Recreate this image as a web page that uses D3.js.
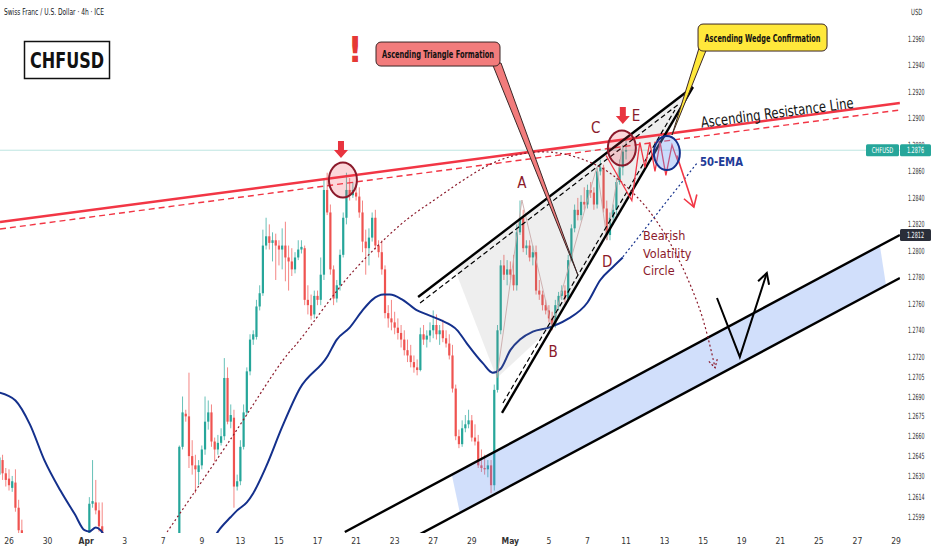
<!DOCTYPE html>
<html><head><meta charset="utf-8">
<script src="https://cdn.jsdelivr.net/npm/d3@7"></script>
<style>
body{margin:0;background:#fff}
svg{display:block;font-family:"Liberation Sans Narrow","DejaVu Sans Condensed","Roboto",sans-serif}
</style></head>
<body><svg id="c" width="932" height="550"></svg>
<script>
// ---------- DATA ----------
const timeLabels = ["26","30","Apr","3","7","9","13","15","17","21","23","27","29","May","5","7","11","13","15","19","21","25","27","29"];
const barsPerLabel = 12;
const priceTicks = [1.2960,1.2940,1.2920,1.2900,1.2880,1.2860,1.2840,1.2820,1.2800,1.2780,1.2760,1.2740,1.2720,1.2705,1.2690,1.2675,1.2660,1.2645,1.2630,1.2614,1.2599];
const firstBar = -3;
const opens = [1.2631,1.2642,1.2632,1.2628,1.2621,1.2625,1.2606,1.2589,
1.2576,1.2567,1.2559,1.2548,1.2555,1.2542,1.2536,1.2527,1.2533,1.2538,1.2532,1.2523,1.2529,1.2540,1.2536,1.2544,1.2552,1.2558,1.2563,1.2570,
1.2582,1.2609,1.2610,1.2604,1.2592,
1.2576,1.2567,1.2559,1.2552,1.2546,1.2540,1.2535,1.2530,1.2536,1.2533,1.2527,1.2525,1.2530,1.2538,1.2535,1.2539,1.2545,1.2548,1.2544,1.2550,1.2555,1.2561,1.2567,
1.2578,1.2652,1.2677,1.2675,1.2645,1.2638,1.2633,1.2638,1.2650,1.2671,1.2678,1.2656,1.2650,1.2655,1.2660,1.2704,1.2671,1.2674,1.2622,1.2626,1.2652,1.2678,1.2709,1.2733,1.2735,1.2758,1.2768,1.2804,1.2811,1.2806,1.2808,1.2804,1.2801,1.2804,1.2795,1.2792,1.2786,1.2795,1.2801,1.2802,1.2763,1.2759,1.2752,1.2766,1.2763,1.2782,1.2846,1.2829,1.2786,1.2764,1.2774,1.2797,1.2825,1.2846,1.2842,1.2844,1.2841,1.2829,1.2807,1.2802,1.2810,1.2825,1.2804,1.2799,1.2786,1.2753,1.2749,1.2746,1.2742,1.2738,1.2733,1.2725,1.2721,1.2716,1.2712,1.2710,1.2737,1.2733,1.2736,1.2740,1.2744,1.2737,1.2740,1.2734,1.2730,1.2721,1.2696,1.2660,1.2654,1.2666,1.2669,1.2672,1.2659,1.2656,1.2638,1.2636,1.2635,1.2638,1.2623,1.2695,1.2740,1.2789,1.2782,1.2786,1.2782,1.2774,1.2814,1.2825,1.2802,1.2804,1.2795,1.2799,1.2770,1.2767,1.2759,1.2755,1.2749,1.2744,1.2759,1.2766,1.2770,1.2764,1.2793,1.2817,1.2831,1.2827,1.2837,1.2835,1.2846,1.2844,1.2835,1.2860,1.2863,1.2832,1.2812,1.2825,1.2831,1.2852,1.2863,1.2875];
const highs = [1.2650,1.2646,1.2636,1.2635,1.2630,1.2635,1.2612,1.2597,
1.2582,1.2574,1.2568,1.2559,1.2563,1.2555,1.2544,1.2540,1.2544,1.2548,1.2540,1.2536,1.2544,1.2552,1.2548,1.2555,1.2563,1.2571,1.2578,1.2585,
1.2614,1.2642,1.2627,1.2610,1.2610,
1.2582,1.2576,1.2570,1.2563,1.2555,1.2552,1.2544,1.2540,1.2548,1.2544,1.2538,1.2536,1.2544,1.2548,1.2544,1.2552,1.2555,1.2559,1.2555,1.2561,1.2567,1.2570,1.2578,
1.2653,1.2690,1.2680,1.2708,1.2657,1.2646,1.2642,1.2653,1.2690,1.2687,1.2684,1.2659,1.2661,1.2666,1.2719,1.2712,1.2684,1.2680,1.2631,1.2657,1.2684,1.2712,1.2737,1.2740,1.2763,1.2774,1.2816,1.2825,1.2820,1.2814,1.2813,1.2808,1.2817,1.2822,1.2804,1.2802,1.2799,1.2808,1.2808,1.2804,1.2774,1.2767,1.2770,1.2770,1.2795,1.2854,1.2859,1.2835,1.2789,1.2778,1.2801,1.2829,1.2859,1.2855,1.2852,1.2850,1.2848,1.2838,1.2816,1.2817,1.2829,1.2831,1.2808,1.2808,1.2789,1.2759,1.2763,1.2754,1.2749,1.2744,1.2740,1.2733,1.2729,1.2721,1.2718,1.2742,1.2744,1.2740,1.2746,1.2755,1.2752,1.2744,1.2748,1.2740,1.2737,1.2729,1.2699,1.2665,1.2672,1.2676,1.2680,1.2676,1.2669,1.2661,1.2650,1.2646,1.2642,1.2642,1.2699,1.2744,1.2793,1.2797,1.2793,1.2792,1.2797,1.2820,1.2838,1.2831,1.2808,1.2808,1.2804,1.2804,1.2778,1.2770,1.2763,1.2759,1.2754,1.2763,1.2769,1.2774,1.2774,1.2797,1.2820,1.2835,1.2840,1.2842,1.2848,1.2850,1.2852,1.2848,1.2863,1.2869,1.2865,1.2838,1.2829,1.2835,1.2855,1.2869,1.2880,1.2884];
const lows = [1.2627,1.2627,1.2622,1.2619,1.2618,1.2603,1.2585,1.2573,
1.2563,1.2555,1.2544,1.2540,1.2536,1.2529,1.2521,1.2518,1.2525,1.2527,1.2518,1.2514,1.2521,1.2529,1.2525,1.2536,1.2540,1.2548,1.2555,1.2559,
1.2578,1.2606,1.2601,1.2588,1.2570,
1.2563,1.2555,1.2548,1.2540,1.2536,1.2529,1.2525,1.2521,1.2527,1.2523,1.2518,1.2515,1.2525,1.2529,1.2525,1.2533,1.2538,1.2540,1.2536,1.2544,1.2548,1.2555,1.2563,
1.2576,1.2650,1.2671,1.2636,1.2631,1.2617,1.2623,1.2635,1.2646,1.2665,1.2652,1.2641,1.2646,1.2653,1.2657,1.2669,1.2666,1.2606,1.2619,1.2623,1.2650,1.2676,1.2706,1.2729,1.2733,1.2755,1.2766,1.2801,1.2801,1.2792,1.2778,1.2789,1.2786,1.2777,1.2770,1.2781,1.2783,1.2793,1.2798,1.2759,1.2752,1.2748,1.2749,1.2759,1.2759,1.2778,1.2827,1.2782,1.2759,1.2761,1.2770,1.2795,1.2820,1.2838,1.2840,1.2838,1.2825,1.2799,1.2782,1.2789,1.2807,1.2801,1.2795,1.2782,1.2749,1.2742,1.2740,1.2737,1.2733,1.2727,1.2721,1.2716,1.2712,1.2708,1.2706,1.2709,1.2729,1.2727,1.2731,1.2734,1.2733,1.2729,1.2731,1.2727,1.2718,1.2693,1.2657,1.2651,1.2652,1.2663,1.2666,1.2656,1.2653,1.2636,1.2633,1.2631,1.2629,1.2617,1.2619,1.2693,1.2737,1.2778,1.2774,1.2778,1.2770,1.2770,1.2812,1.2799,1.2797,1.2792,1.2789,1.2767,1.2763,1.2755,1.2752,1.2746,1.2740,1.2742,1.2755,1.2763,1.2761,1.2763,1.2792,1.2814,1.2823,1.2823,1.2831,1.2832,1.2840,1.2831,1.2832,1.2857,1.2829,1.2808,1.2808,1.2820,1.2827,1.2850,1.2857,1.2869];
const closes = [1.2644,1.2632,1.2627,1.2623,1.2626,1.2606,1.2589,1.2576,
1.2567,1.2559,1.2548,1.2555,1.2542,1.2536,1.2527,1.2533,1.2538,1.2532,1.2523,1.2529,1.2540,1.2536,1.2544,1.2552,1.2558,1.2563,1.2570,1.2582,
1.2609,1.2611,1.2604,1.2592,1.2576,
1.2567,1.2559,1.2552,1.2546,1.2540,1.2535,1.2530,1.2536,1.2533,1.2527,1.2525,1.2530,1.2538,1.2535,1.2539,1.2545,1.2548,1.2544,1.2550,1.2555,1.2561,1.2567,1.2578,
1.2652,1.2678,1.2675,1.2645,1.2638,1.2635,1.2638,1.2650,1.2671,1.2678,1.2656,1.2650,1.2655,1.2660,1.2704,1.2671,1.2676,1.2622,1.2626,1.2652,1.2678,1.2709,1.2733,1.2737,1.2758,1.2768,1.2804,1.2811,1.2806,1.2808,1.2804,1.2801,1.2804,1.2795,1.2792,1.2786,1.2795,1.2801,1.2803,1.2763,1.2759,1.2751,1.2766,1.2763,1.2782,1.2846,1.2829,1.2786,1.2764,1.2774,1.2797,1.2825,1.2846,1.2842,1.2846,1.2841,1.2829,1.2807,1.2802,1.2810,1.2825,1.2804,1.2799,1.2786,1.2753,1.2749,1.2746,1.2742,1.2738,1.2733,1.2725,1.2721,1.2716,1.2712,1.2710,1.2737,1.2733,1.2736,1.2740,1.2744,1.2737,1.2740,1.2734,1.2730,1.2721,1.2696,1.2660,1.2654,1.2666,1.2669,1.2672,1.2659,1.2656,1.2638,1.2636,1.2635,1.2638,1.2623,1.2695,1.2740,1.2789,1.2782,1.2786,1.2782,1.2774,1.2814,1.2825,1.2802,1.2804,1.2795,1.2799,1.2770,1.2767,1.2759,1.2755,1.2749,1.2744,1.2759,1.2766,1.2770,1.2764,1.2793,1.2817,1.2831,1.2827,1.2837,1.2835,1.2846,1.2844,1.2835,1.2860,1.2863,1.2832,1.2812,1.2825,1.2831,1.2852,1.2863,1.2875,1.2876];
const emaBars = [-3,2,6.5,11,16,20.5,23.5,25,27,28.5,31.5,41,53,62.5,65,69,71,74,76,80,85,90.5,99,102,106,110,113,116.5,118.5,122.5,127,130,134,139.5,142.5,147.5,150.5,153,156,159,163,168,173.5,180,184,188,191];
const emaValues = [1.2693,1.2687,1.2669,1.2642,1.2619,1.2601,1.2589,1.2588,1.2591,1.2589,1.2576,1.2551,1.2553,1.2578,1.2588,1.2599,1.2604,1.2610,1.2617,1.2637,1.2667,1.2696,1.2720,1.2733,1.2742,1.2755,1.2763,1.2767,1.2767,1.2763,1.2755,1.2752,1.2748,1.2740,1.2730,1.2715,1.2708,1.2711,1.2725,1.2733,1.2739,1.2742,1.2748,1.2761,1.2778,1.2788,1.2795];
// drawings, as [bar, price]
const resistanceLine = [[-2.8,1.28218],[277.2,1.29116]];
const resistanceDashed = [[-2.8,1.28165],[277.2,1.29064]];
const wedgeUpper = [[127.3,1.27652],[212.8,1.29237]];
const wedgeUpperDash = [[127.9,1.27606],[208.8,1.29116]];
const wedgeLower = [[153.4,1.26776],[212.8,1.29237]];
const wedgeLowerDash = [[153.7,1.26851],[207.2,1.29064]];
const triangleShade = [[138.8,1.27856],[151.8,1.27040],[168.9,1.27425],[212.8,1.29237]];
const pivotPath = [[151.8,1.27040],[159.6,1.28384],[168.9,1.27425],[182.9,1.28633],[186.1,1.28082],[190.7,1.28762]];
const channelUpper = [[104.5,1.25877],[277.2,1.2812]];
const channelLower = [[126.3,1.25840],[277.2,1.27795]];
const channelFill = [[137.8,1.26308],[271,1.28037],[272.9,1.27739],[140.3,1.26021]];
const volatilityArc = [[49.2,1.25877],[68.8,1.26572],[85.3,1.27176],[90.5,1.27327],[106.1,1.27818],[121.7,1.28195],[131,1.28362],[152.8,1.28686],[168.3,1.28746],[183.9,1.28633],[196.3,1.28384],[205.7,1.28059],[215,1.27554],[219.7,1.27116]];
const emaProjection = [[191,1.27954],[214.1,1.28663]];
const redZigzag = [[185.8,1.2872],[193.8,1.2838],[196.3,1.2882],[197.9,1.2863],[199.4,1.2882],[201,1.2860],[202.6,1.2882],[204.4,1.2857],[206.3,1.2880],[208.2,1.2867]];
const redArrow = [[207.8,1.2872],[213.1,1.2833]];
const vProjection = [[220.3,1.27644],[227.4,1.27199],[235.8,1.27833]];
const redCircles = [[103.9,1.28535],[190.7,1.28777]];
const blueCircles = [[204.7,1.28739]];
const downArrows = [[103.3,1.28701],[191.0,1.28958]];
const pivotLabels = [["A",159.6,1.28512],["B",169.3,1.27236],["C",182.6,1.28928],["D",186.1,1.27916],["E",195.1,1.29018]];
const callouts = [
  {text:"Ascending Triangle Formation", box:[114.2,1.29577], tip:[177.0,1.27818]},
  {text:"Ascending Wedge Confirmation", box:[214.4,1.29713], tip:[206.3,1.28875]}
];
const resistanceLabel = [239,1.29045];
const emaLabel = [215,1.28678];
const volLabel = [197.3,1.28112];
const alertMark = [107.7,1.29517];
const currentPrice = 1.2876;
const channelPrice = 1.2812;

// ---------- SCALES ----------
const svg = d3.select("#c");
const plotR = 900, plotB = 533;
const x = d3.scaleLinear().domain([0,276]).range([9,896]);
const y = d3.scaleLinear().domain([1.2599,1.2960]).range([517,39]);
const P = d => [x(d[0]), y(d[1])];
const line = d3.line().x(d=>x(d[0])).y(d=>y(d[1]));
const BULL="#26a69a", BEAR="#ef5350", RED="#f23645", MAROON="#8b1a2b", NAVY="#14308c";

svg.append("defs").append("clipPath").attr("id","plot")
  .append("rect").attr("x",0).attr("y",0).attr("width",plotR).attr("height",plotB);
const g = svg.append("g").attr("clip-path","url(#plot)");

function arrowHead(tip, from, len, ang){
  const a = Math.atan2(tip[1]-from[1], tip[0]-from[0]);
  const p1=[tip[0]-len*Math.cos(a-ang), tip[1]-len*Math.sin(a-ang)];
  const p2=[tip[0]-len*Math.cos(a+ang), tip[1]-len*Math.sin(a+ang)];
  return `M${p1}L${tip}L${p2}`;
}
function fit(sel, w){ return sel.attr("textLength",w).attr("lengthAdjust","spacingAndGlyphs"); }
// narrow text by horizontal scaling (keeps true bounding box)
function narrow(parent, tx, ty, sx, txt, size, fill, anchor){
  return parent.append("text").attr("transform",`translate(${tx},${ty}) scale(${sx},1)`)
    .attr("text-anchor",anchor||"start").attr("dominant-baseline","central")
    .attr("font-size",size).attr("fill",fill).text(txt);
}

// current price line
g.append("line").attr("x1",0).attr("x2",plotR).attr("y1",y(currentPrice)).attr("y2",y(currentPrice))
  .attr("stroke",BULL).attr("stroke-opacity",0.3).attr("stroke-width",1);

// candles
const candles = opens.map((o,k)=>({bar:firstBar+k,o,h:highs[k],l:lows[k],c:closes[k]}));
const cg = g.append("g");
cg.selectAll("line").data(candles).join("line")
  .attr("x1",d=>x(d.bar)).attr("x2",d=>x(d.bar)).attr("y1",d=>y(d.h)).attr("y2",d=>y(d.l))
  .attr("stroke",d=>d.c>=d.o?BULL:BEAR).attr("stroke-opacity",0.7).attr("stroke-width",1);
cg.selectAll("rect").data(candles).join("rect")
  .attr("x",d=>x(d.bar)-1.1).attr("width",2.2)
  .attr("y",d=>y(Math.max(d.o,d.c))).attr("height",d=>Math.max(1,Math.abs(y(d.o)-y(d.c))))
  .attr("fill",d=>d.c>=d.o?BULL:BEAR);

// EMA
g.append("path").datum(emaBars.map((b,k)=>[b,emaValues[k]]))
  .attr("d",d3.line().x(d=>x(d[0])).y(d=>y(d[1])).curve(d3.curveMonotoneX))
  .attr("fill","none").attr("stroke",NAVY).attr("stroke-width",2);

// gray triangle shade + pivot path
g.append("path").datum(triangleShade).attr("d",d=>line(d)+"Z")
  .attr("fill","#8a8a8a").attr("fill-opacity",0.14);
g.append("path").datum(pivotPath).attr("d",line).attr("fill","none")
  .attr("stroke","#c9a9a9").attr("stroke-width",0.9);

// channel
g.append("path").datum(channelFill).attr("d",d=>line(d)+"Z").attr("fill","#5b8def").attr("fill-opacity",0.28);
[channelUpper,channelLower].forEach(l=>g.append("path").datum(l).attr("d",line)
  .attr("stroke","#000").attr("stroke-width",2.4).attr("fill","none"));

// resistance
g.append("path").datum(resistanceLine).attr("d",line).attr("stroke",RED).attr("stroke-width",2.5).attr("fill","none");
g.append("path").datum(resistanceDashed).attr("d",line).attr("stroke",RED).attr("stroke-width",1.4)
  .attr("stroke-dasharray","6,4").attr("fill","none");

// wedge
[wedgeUpper,wedgeLower].forEach(l=>g.append("path").datum(l).attr("d",line)
  .attr("stroke","#000").attr("stroke-width",2.4).attr("fill","none"));
[wedgeUpperDash,wedgeLowerDash].forEach(l=>g.append("path").datum(l).attr("d",line)
  .attr("stroke","#000").attr("stroke-width",1.2).attr("stroke-dasharray","5,3").attr("fill","none"));

// volatility arc
const arcLine = d3.line().x(d=>x(d[0])).y(d=>y(d[1])).curve(d3.curveCatmullRom);
g.append("path").datum(volatilityArc).attr("d",arcLine).attr("fill","none")
  .attr("stroke",MAROON).attr("stroke-width",1.2).attr("stroke-dasharray","2,2.5");
{
  const n=volatilityArc.length;
  g.append("path").attr("d",arrowHead(P(volatilityArc[n-1]),P(volatilityArc[n-2]),9,0.5))
   .attr("fill","none").attr("stroke",MAROON).attr("stroke-width",1.2).attr("stroke-dasharray","2,2");
}

// EMA projection
g.append("path").datum(emaProjection).attr("d",line).attr("fill","none")
  .attr("stroke",NAVY).attr("stroke-width",1.2).attr("stroke-dasharray","2,2.5");

// red zigzag + arrow
g.append("path").datum(redZigzag).attr("d",line).attr("fill","none").attr("stroke",RED).attr("stroke-width",1.3);
g.append("path").datum(redArrow).attr("d",line).attr("fill","none").attr("stroke",RED).attr("stroke-width",1.6);
g.append("path").attr("d",arrowHead(P(redArrow[1]),P(redArrow[0]),13,0.55))
  .attr("fill","none").attr("stroke",RED).attr("stroke-width",1.6);

// circles
g.selectAll(".rc").data(redCircles).join("ellipse").attr("class","rc")
  .attr("cx",d=>x(d[0])).attr("cy",d=>y(d[1])).attr("rx",14).attr("ry",17.5)
  .attr("fill",RED).attr("fill-opacity",0.2).attr("stroke",MAROON).attr("stroke-width",2);
g.selectAll(".bc").data(blueCircles).join("ellipse").attr("class","bc")
  .attr("cx",d=>x(d[0])).attr("cy",d=>y(d[1])).attr("rx",13).attr("ry",17)
  .attr("fill","#6b9cf5").attr("fill-opacity",0.35).attr("stroke",NAVY).attr("stroke-width",2);

// down arrows
g.selectAll(".da").data(downArrows).join("path").attr("class","da")
  .attr("d",d=>{const [tx,ty]=P(d);return `M${tx},${ty}L${tx-7},${ty-8}L${tx-3},${ty-8}L${tx-3},${ty-17}L${tx+3},${ty-17}L${tx+3},${ty-8}L${tx+7},${ty-8}Z`;})
  .attr("fill","#e8343f");

// V projection
g.append("path").datum(vProjection).attr("d",line).attr("fill","none").attr("stroke","#000").attr("stroke-width",2);
g.append("path").attr("d",arrowHead(P(vProjection[2]),P(vProjection[1]),12,0.5))
  .attr("fill","none").attr("stroke","#000").attr("stroke-width",2);

// labels
g.selectAll(".pl").data(pivotLabels).join("text").attr("class","pl")
  .attr("x",d=>x(d[1])).attr("y",d=>y(d[2])).attr("text-anchor","middle").attr("dominant-baseline","central")
  .attr("font-size",15).attr("fill",MAROON).text(d=>d[0]);
g.append("text").attr("transform",`translate(${x(resistanceLabel[0])},${y(resistanceLabel[1])}) rotate(-7.5) scale(0.86,1)`)
  .attr("text-anchor","middle").attr("dominant-baseline","central").attr("font-size",15).attr("fill","#111")
  .text("Ascending Resistance Line");
fit(g.append("text").attr("x",x(emaLabel[0])).attr("y",y(emaLabel[1])).attr("dominant-baseline","central")
  .attr("font-size",12.5).attr("font-weight","bold").attr("fill","#1f3c98").text("50-EMA"),43);
g.append("text").attr("x",x(volLabel[0])).attr("y",y(volLabel[1])).attr("font-size",12.5).attr("fill",MAROON)
  .selectAll("tspan").data(["Bearish","Volatility","Circle"]).join("tspan")
  .attr("x",x(volLabel[0])).attr("dy",(d,i)=>i?"1.4em":"0.35em").text(d=>d);
g.append("text").attr("x",x(alertMark[0])).attr("y",y(alertMark[1])).attr("text-anchor","middle")
  .attr("dominant-baseline","central").attr("font-size",36).attr("font-weight","bold").attr("fill","#e53935").text("!");

// callouts
const cfill = ["#f27c7c","#ffe83b"];
const cwidth = [124,129], cheight=[24,27], ctext=[112,116];
callouts.forEach((c,k)=>{
  const [bx,by]=P(c.box), [tx,ty]=P(c.tip);
  const w = cwidth[k], h = cheight[k];
  const base = k===0?[bx+116,bx+125]:[bx+1,bx+9];
  g.append("path").attr("d",`M${base[0]},${by+h-3}L${tx},${ty}L${base[1]},${by+h-3}Z`)
    .attr("fill",cfill[k]).attr("stroke","#3a2626").attr("stroke-width",1);
  g.append("rect").attr("x",bx).attr("y",by).attr("width",w).attr("height",h).attr("rx",5)
    .attr("fill",cfill[k]).attr("stroke","#3a2626").attr("stroke-width",1);
  fit(g.append("text").attr("x",bx+w/2).attr("y",by+h/2).attr("text-anchor","middle").attr("dominant-baseline","central")
    .attr("font-size",10.5).attr("font-weight","bold").attr("fill","#111").text(c.text),ctext[k]);
});

// ---------- AXES ----------
const ax = svg.append("g");
priceTicks.forEach(v=>narrow(ax,908,y(v),0.62,d3.format(".4f")(v),8.5,"#333"));
narrow(ax,911,12,0.7,"USD",8.5,"#333");
ax.selectAll(".tl").data(timeLabels).join("text").attr("class","tl")
  .attr("x",(d,i)=>x(i*barsPerLabel)).attr("y",541).attr("text-anchor","middle").attr("dominant-baseline","central")
  .attr("font-size",8.5).attr("fill","#333").attr("font-weight",d=>(d==="Apr"||d==="May")?"bold":"normal").text(d=>d);

// price tags
const cy = y(currentPrice);
ax.append("rect").attr("x",866).attr("y",cy-6).attr("width",33).attr("height",12).attr("rx",1.5).attr("fill",BULL);
narrow(ax,882.5,cy,0.72,"CHFUSD",8,"#fff","middle");
ax.append("rect").attr("x",900).attr("y",cy-6).attr("width",31).attr("height",12).attr("rx",1.5).attr("fill",BULL);
narrow(ax,915.5,cy,0.64,d3.format(".4f")(currentPrice),8.5,"#fff","middle");
const chy = y(channelPrice);
ax.append("rect").attr("x",900).attr("y",chy-6).attr("width",31).attr("height",12).attr("rx",1.5).attr("fill","#2a2e39");
narrow(ax,915.5,chy,0.64,d3.format(".4f")(channelPrice),8.5,"#fff","middle");

// header + title box
fit(svg.append("text").attr("x",4).attr("y",11).attr("dominant-baseline","central").attr("font-size",9.5).attr("fill","#131722")
  .text("Swiss Franc / U.S. Dollar · 4h · ICE"),100);
svg.append("rect").attr("x",24.5).attr("y",41.5).attr("width",85).attr("height",37).attr("fill","#fff").attr("stroke","#111").attr("stroke-width",1.5);
fit(svg.append("text").attr("x",67).attr("y",60.5).attr("text-anchor","middle").attr("dominant-baseline","central")
  .attr("font-size",22).attr("font-weight","bold").attr("fill","#111").text("CHFUSD"),74);
</script></body></html>
